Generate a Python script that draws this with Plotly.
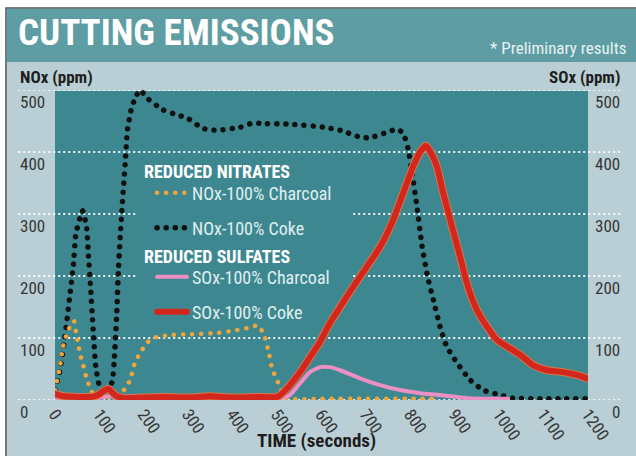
import plotly.graph_objects as go

# ---- data (time in seconds, concentrations in ppm) ----
t_nox_coke = [0, 11, 22, 34, 41, 47, 56, 62, 71, 75, 80, 86, 92, 100, 115, 128, 133, 139, 143,
              150, 158, 163, 173, 184, 192, 207, 243, 274, 297, 333, 365, 417, 446, 462, 529,
              604, 642, 687, 709, 748, 770, 784, 795, 804, 815, 826, 840, 852, 867, 882, 905,
              935, 964, 1002, 1031, 1100, 1200]
nox_coke = [16, 48, 100, 172, 215, 268, 293, 305, 280, 237, 183, 113, 53, 24, 18, 28, 60, 140, 215,
            300, 382, 435, 473, 492, 500, 487, 468, 460, 455, 438, 435, 440, 447, 446, 445,
            440, 435, 424, 423, 432, 437, 430, 405, 366, 311, 250, 195, 161, 118, 86, 60,
            32, 16, 8, 3, 2, 2]

t_nox_charcoal = [0, 11, 18, 27, 38, 43, 47, 52, 56, 62, 70, 79, 90, 130, 150, 158, 169, 180, 191,
                  207, 221, 241, 266, 300, 365, 410, 446, 455, 469, 480, 488, 496, 505, 515, 525,
                  600, 700, 800, 860]
nox_charcoal = [16, 53, 86, 108, 124, 127, 110, 92, 75, 60, 38, 19, 6, 5, 12, 19, 32, 60, 75,
                92, 100, 103, 105, 106, 108, 113, 118, 121, 108, 81, 53, 38, 24, 8, 2,
                2, 2, 2, 2]

t_sox_coke = [0, 20, 50, 80, 97, 108, 120, 128, 139, 158, 200, 250, 300, 350, 400, 450, 500, 507,
              529, 552, 574, 597, 619, 642, 671, 702, 732, 761, 784, 806, 822, 835, 847, 860,
              874, 894, 912, 930, 950, 973, 995, 1018, 1047, 1077, 1108, 1144, 1176, 1198]
sox_coke = [10, 6, 5, 5, 8, 14, 18, 13, 6, 3, 4, 5, 4, 6, 4, 5, 5, 8,
            24, 45, 69, 94, 124, 150, 182, 215, 247, 290, 334, 376, 400, 410, 398, 376,
            334, 279, 231, 182, 145, 118, 97, 86, 73, 56, 48, 45, 40, 35]

t_sox_charcoal = [0, 90, 110, 125, 140, 200, 300, 400, 500, 520, 529, 552, 574, 597, 619, 642,
                  687, 732, 777, 822, 867, 928, 1020]
sox_charcoal = [2, 2, 5, 6, 2, 1, 1, 1, 2, 5, 8, 27, 45, 53, 53, 48,
                35, 24, 16, 11, 8, 3, 2]

x_ticks = list(range(0, 1201, 100))
y_ticks = [0, 100, 200, 300, 400, 500]

# ---- styling ----
NARROW = "Roboto Condensed, Roboto, sans-serif"
PLOT_TEAL = "#3d8890"
HEADER_TEAL = "#5e9da3"
LIGHT_BG = "#bacfd5"
LABEL_GREY = "#363636"
DOTS = "0.1px,9px"

fig = go.Figure()

fig.add_trace(go.Scatter(
    x=t_nox_coke, y=nox_coke, mode="lines", name="NOx-100% Coke", legend="legend2",
    line=dict(color="#111111", width=5.5, dash=DOTS, shape="spline", smoothing=0.5)))
fig.add_trace(go.Scatter(
    x=t_nox_charcoal, y=nox_charcoal, mode="lines", name="NOx-100% Charcoal", legend="legend",
    line=dict(color="#f2a53a", width=4.5, dash=DOTS, shape="spline", smoothing=0.5)))
fig.add_trace(go.Scatter(
    x=t_sox_charcoal, y=sox_charcoal, mode="lines", name="SOx-100% Charcoal", legend="legend3",
    line=dict(color="#ec8fc2", width=4, shape="spline", smoothing=0.6)))
fig.add_trace(go.Scatter(
    x=t_sox_coke, y=sox_coke, mode="lines", showlegend=False, hoverinfo="skip",
    line=dict(color="#d9764a", width=8, shape="spline", smoothing=0.6)))
fig.add_trace(go.Scatter(
    x=t_sox_coke, y=sox_coke, mode="lines", name="SOx-100% Coke", legend="legend4",
    line=dict(color="#d3271d", width=6, shape="spline", smoothing=0.6)))

# ---- background panels, gridlines ----
shapes = [
    dict(type="rect", xref="paper", yref="paper", x0=-0.092, x1=1.12, y0=-0.25, y1=1.2645,
         fillcolor=LIGHT_BG, line=dict(color="#555555", width=1.5), layer="below"),
    dict(type="rect", xref="paper", yref="paper", x0=-0.0905, x1=1.12, y0=1.09, y1=1.262,
         fillcolor=HEADER_TEAL, line=dict(width=0), layer="below"),
    dict(type="rect", xref="paper", yref="paper", x0=0, x1=1, y0=0, y1=0.997,
         fillcolor=PLOT_TEAL, line=dict(width=0), layer="below"),
]
for v in y_ticks:
    shapes.append(dict(type="line", xref="paper", yref="y", x0=-0.069, x1=1.066, y0=v, y1=v,
                       line=dict(color="rgba(255,255,255,0.9)", width=2, dash="2px,3px"),
                       layer="below"))
# panel behind the legend hides the gridlines there
shapes.append(dict(type="rect", xref="paper", yref="paper", x0=0.154, x1=0.557, y0=0.239, y1=0.78,
                   fillcolor=PLOT_TEAL, line=dict(width=0), layer="below"))

# ---- text ----
annotations = [
    dict(text="<b>CUTTING EMISSIONS</b>", xref="paper", yref="paper", x=-0.073, y=1.186,
         xanchor="left", yanchor="middle", showarrow=False,
         font=dict(family=NARROW, size=37, color="white")),
    dict(text="* Preliminary results", xref="paper", yref="paper", x=1.075, y=1.136,
         xanchor="right", yanchor="middle", showarrow=False,
         font=dict(family=NARROW, size=17, color="#e6f2f3")),
    dict(text="<b>NOx (ppm)</b>", xref="paper", yref="paper", x=-0.0694, y=1.042,
         xanchor="left", yanchor="middle", showarrow=False,
         font=dict(family=NARROW, size=17, color="#1e1e1e")),
    dict(text="<b>SOx (ppm)</b>", xref="paper", yref="paper", x=1.0638, y=1.042,
         xanchor="right", yanchor="middle", showarrow=False,
         font=dict(family=NARROW, size=17, color="#1e1e1e")),
    dict(text="<b>TIME (seconds)</b>", xref="paper", yref="paper", x=0.49, y=-0.132,
         xanchor="center", yanchor="middle", showarrow=False,
         font=dict(family=NARROW, size=19, color="#1e1e1e")),
    # legend group headings
    dict(text="<b>REDUCED NITRATES</b>", xref="paper", yref="paper", x=0.163, y=0.7387,
         xanchor="left", yanchor="middle", showarrow=False,
         font=dict(family=NARROW, size=18, color="white")),
    dict(text="<b>REDUCED SULFATES</b>", xref="paper", yref="paper", x=0.163, y=0.4613,
         xanchor="left", yanchor="middle", showarrow=False,
         font=dict(family=NARROW, size=18, color="white")),
]
for v in y_ticks:
    annotations.append(dict(text=str(v), xref="paper", yref="y", x=-0.0694, y=v,
                            xanchor="left", yanchor="top", showarrow=False,
                            font=dict(family=NARROW, size=17, color=LABEL_GREY)))
    annotations.append(dict(text=str(v), xref="paper", yref="y", x=1.0638, y=v,
                            xanchor="right", yanchor="top", showarrow=False,
                            font=dict(family=NARROW, size=17, color=LABEL_GREY)))

legend_font = dict(family=NARROW, size=18, color="#e0eff0")
common = dict(bgcolor="rgba(0,0,0,0)", font=legend_font, xanchor="left", yanchor="middle",
              itemwidth=30, x=0.182)

fig.update_layout(
    width=636, height=456,
    margin=dict(l=55, r=48, t=90, b=56),
    paper_bgcolor="white",
    plot_bgcolor="rgba(0,0,0,0)",
    showlegend=True,
    shapes=shapes,
    annotations=annotations,
    xaxis=dict(range=[0, 1200], tickvals=x_ticks, ticktext=[str(t) for t in x_ticks],
               tickangle=55, tickfont=dict(family=NARROW, size=17, color=LABEL_GREY),
               showgrid=False, zeroline=False, showline=False, ticks=""),
    yaxis=dict(range=[0, 500], visible=False, showgrid=False, zeroline=False),
    legend=dict(**common, y=0.6677),
    legend2=dict(**common, y=0.5548),
    legend3=dict(**common, y=0.3968),
    legend4=dict(**common, y=0.2839),
)

# round line caps turn the dash pattern into round dots
post = """
var gd = document.getElementById('{plot_id}');
function roundCaps(){
  gd.querySelectorAll('path.js-line, .legendlines path').forEach(function(p){
    p.style.strokeLinecap = 'round';
  });
}
roundCaps();
gd.on('plotly_afterplot', roundCaps);
"""

fig.write_html("out.html", post_script=post, config={"displayModeBar": False})
